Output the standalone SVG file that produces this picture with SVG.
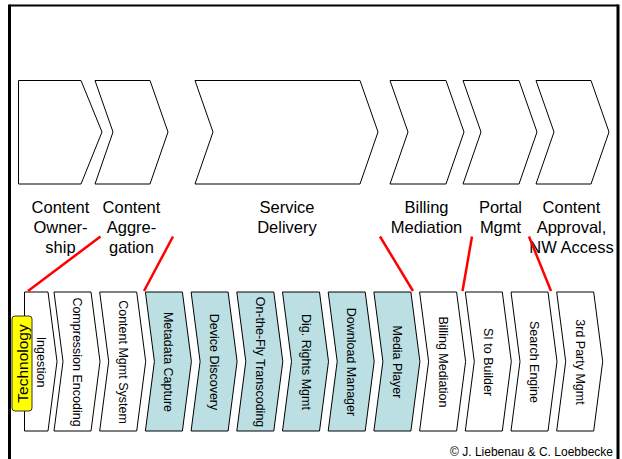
<svg xmlns="http://www.w3.org/2000/svg" width="622" height="459" viewBox="0 0 622 459">
  <style>
    .frame { fill: none; stroke: #000; }
    .chev { fill: #fff; stroke: #000; stroke-width: 1; stroke-linejoin: miter; }
    .step { fill: #fff; stroke: #000; stroke-width: 1; }
    .step.hl { fill: #BBDFE2; }
    .lbl { font-family: "Liberation Sans", Arial, sans-serif; font-size: 16.5px; fill: #000; text-anchor: middle; }
    .vt { font-family: "Liberation Sans", Arial, sans-serif; font-size: 12.5px; fill: #000; text-anchor: middle; dominant-baseline: central; }
    .link { stroke: #FF0000; stroke-width: 2.5; fill: none; }
    .tag { fill: #FFFF00; stroke: #333; stroke-width: 1; }
    .tagtxt { font-family: "Liberation Sans", Arial, sans-serif; font-size: 15.5px; fill: #000; text-anchor: middle; dominant-baseline: central; }
    .copy { font-family: "Liberation Sans", Arial, sans-serif; font-size: 12px; fill: #000; text-anchor: end; }
  </style>

  <rect width="622" height="459" fill="#fff"/>

  <!-- open frame: top edge and two sides -->
  <g id="frame">
    <line class="frame" x1="9.5" y1="5.5" x2="618" y2="5.5" stroke-width="2"/>
    <line class="frame" x1="9.5" y1="4.5" x2="9.5" y2="459" stroke-width="3"/>
    <line class="frame" x1="618" y1="4.5" x2="618" y2="459" stroke-width="3"/>
  </g>

  <!-- value chain stages (top row) -->
  <g id="stage-ownership">
    <polygon class="chev" points="18.5,80.5 81,80.5 102,132 81,184 18.5,184"/>
    <text class="lbl"><tspan x="60.5" y="213">Content</tspan><tspan x="60.5" y="233">Owner-</tspan><tspan x="60.5" y="253">ship</tspan></text>
  </g>
  <g id="stage-aggregation">
    <polygon class="chev" points="95,80.5 150,80.5 168,132 150,184 95,184 113,132"/>
    <text class="lbl"><tspan x="131.5" y="213">Content</tspan><tspan x="131.5" y="233">Aggre-</tspan><tspan x="131.5" y="253">gation</tspan></text>
  </g>
  <g id="stage-delivery">
    <polygon class="chev" points="195,80.5 360,80.5 378,132 360,184 195,184 213,132"/>
    <text class="lbl"><tspan x="287" y="213">Service</tspan><tspan x="287" y="233">Delivery</tspan></text>
  </g>
  <g id="stage-billing">
    <polygon class="chev" points="390,80.5 446,80.5 464,132 446,184 390,184 408,132"/>
    <text class="lbl"><tspan x="426.5" y="213">Billing</tspan><tspan x="426.5" y="233">Mediation</tspan></text>
  </g>
  <g id="stage-portal">
    <polygon class="chev" points="463,80.5 519,80.5 537,132 519,184 463,184 481,132"/>
    <text class="lbl"><tspan x="500.5" y="213">Portal</tspan><tspan x="500.5" y="233">Mgmt</tspan></text>
  </g>
  <g id="stage-approval">
    <polygon class="chev" points="536,80.5 591,80.5 609,132 591,184 536,184 554,132"/>
    <text class="lbl"><tspan x="571.5" y="213">Content</tspan><tspan x="571.5" y="233">Approval,</tspan><tspan x="571.5" y="253">NW Access</tspan></text>
  </g>

  <!-- technology components (bottom row) -->
  <g id="tech-ingestion">
    <polygon class="step" points="24.5,292 48,292 57,361.5 48,431 24.5,431"/>
    <text class="vt" transform="rotate(90 41 362)" x="41" y="362">Ingestion</text>
  </g>
  <g id="tech-compression">
    <polygon class="step" points="54,292 91,292 100,361.5 91,431 54,431 63,361.5"/>
    <text class="vt" transform="rotate(90 77 362)" x="77" y="362">Compression Encoding</text>
  </g>
  <g id="tech-cms">
    <polygon class="step" points="99.7,292 136.7,292 145.7,361.5 136.7,431 99.7,431 108.7,361.5"/>
    <text class="vt" transform="rotate(90 122.7 362)" x="122.7" y="362">Content Mgmt System</text>
  </g>
  <g id="tech-metadata">
    <polygon class="step hl" points="145.4,292 182.4,292 191.4,361.5 182.4,431 145.4,431 154.4,361.5"/>
    <text class="vt" transform="rotate(90 168.4 362)" x="168.4" y="362">Metadata Capture</text>
  </g>
  <g id="tech-device">
    <polygon class="step hl" points="191.1,292 228.1,292 237.1,361.5 228.1,431 191.1,431 200.1,361.5"/>
    <text class="vt" transform="rotate(90 214.1 362)" x="214.1" y="362">Device Discovery</text>
  </g>
  <g id="tech-transcoding">
    <polygon class="step hl" points="236.8,292 273.8,292 282.8,361.5 273.8,431 236.8,431 245.8,361.5"/>
    <text class="vt" transform="rotate(90 259.8 362)" x="259.8" y="362">On-the-Fly Transcoding</text>
  </g>
  <g id="tech-drm">
    <polygon class="step hl" points="282.5,292 319.5,292 328.5,361.5 319.5,431 282.5,431 291.5,361.5"/>
    <text class="vt" transform="rotate(90 305.5 362)" x="305.5" y="362">Dig. Rights Mgmt</text>
  </g>
  <g id="tech-download">
    <polygon class="step hl" points="328.2,292 365.2,292 374.2,361.5 365.2,431 328.2,431 337.2,361.5"/>
    <text class="vt" transform="rotate(90 351.2 362)" x="351.2" y="362">Download Manager</text>
  </g>
  <g id="tech-player">
    <polygon class="step hl" points="373.9,292 410.9,292 419.9,361.5 410.9,431 373.9,431 382.9,361.5"/>
    <text class="vt" transform="rotate(90 396.9 362)" x="396.9" y="362">Media Player</text>
  </g>
  <g id="tech-billing">
    <polygon class="step" points="419.6,292 456.6,292 465.6,361.5 456.6,431 419.6,431 428.6,361.5"/>
    <text class="vt" transform="rotate(90 442.6 362)" x="442.6" y="362">Billing Mediation</text>
  </g>
  <g id="tech-si">
    <polygon class="step" points="465.3,292 502.3,292 511.3,361.5 502.3,431 465.3,431 474.3,361.5"/>
    <text class="vt" transform="rotate(90 488.3 362)" x="488.3" y="362">SI to Builder</text>
  </g>
  <g id="tech-search">
    <polygon class="step" points="511,292 548,292 557,361.5 548,431 511,431 520,361.5"/>
    <text class="vt" transform="rotate(90 534 362)" x="534" y="362">Search Engine</text>
  </g>
  <g id="tech-thirdparty">
    <polygon class="step" points="556.7,292 593.7,292 602.7,361.5 593.7,431 556.7,431 565.7,361.5"/>
    <text class="vt" transform="rotate(90 579.7 362)" x="579.7" y="362">3rd Party Mgmt</text>
  </g>

  <!-- row label -->
  <g id="technology-tag">
    <rect class="tag" x="12" y="316" width="20" height="95" rx="3" ry="3"/>
    <text class="tagtxt" transform="rotate(-90 22 363.5)" x="22" y="363.5">Technology</text>
  </g>

  <!-- boundaries between stages and components -->
  <g id="connectors">
    <line class="link" x1="100.5" y1="236.5" x2="28" y2="291"/>
    <line class="link" x1="173" y1="236.5" x2="144" y2="291"/>
    <line class="link" x1="380" y1="236.5" x2="413" y2="291"/>
    <line class="link" x1="472" y1="236.5" x2="462.5" y2="291"/>
    <line class="link" x1="529" y1="236.5" x2="551" y2="291"/>
  </g>

  <text class="copy" x="613" y="456">© J. Liebenau &amp; C. Loebbecke</text>
</svg>
